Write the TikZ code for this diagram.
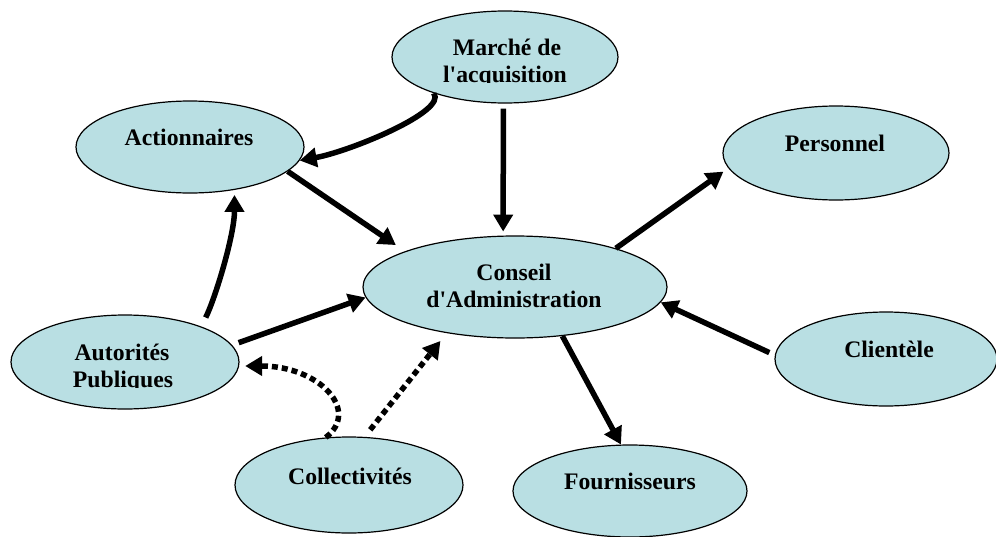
\documentclass[tikz,border=0pt]{standalone}
\usepackage{fontspec}
\setmainfont{Liberation Serif}
\usetikzlibrary{shapes.geometric,arrows.meta}
\definecolor{bubblefill}{RGB}{185,223,227}
\tikzset{
  bubble/.style={ellipse, draw=black, line width=1.2pt, fill=bubblefill, inner sep=0pt},
  lbl/.style={anchor=base, inner sep=0pt, font=\fontsize{23.7}{27}\selectfont\bfseries},
  flow/.style={line width=5.5pt, -{Triangle[length=17pt,width=19pt]}},
  dotflow/.style={flow, dash pattern=on 6pt off 4pt},
}
\begin{document}
\begin{tikzpicture}[x=1pt,y=-1pt]
\useasboundingbox (0,0) rectangle (996,536);

% stakeholders
\node[bubble, minimum width=226pt, minimum height=92pt]  (M)  at (505,57)  {};
\node[bubble, minimum width=228pt, minimum height=92pt]  (A)  at (190,147) {};
\node[bubble, minimum width=226pt, minimum height=94pt]  (P)  at (836,153) {};
\node[bubble, minimum width=304pt, minimum height=102pt] (C)  at (515,287) {};
\node[bubble, minimum width=228pt, minimum height=94pt]  (AP) at (125,362) {};
\node[bubble, minimum width=222pt, minimum height=94pt]  (Cl) at (886,359) {};
\node[bubble, minimum width=228pt, minimum height=96pt]  (Co) at (349,485) {};
\node[bubble, minimum width=234pt, minimum height=92pt]  (F)  at (630,491) {};

% labels (the second lines are cut at the baseline)
\node[lbl] (tM1) at (507,55) {Marché de};
\begin{scope}
  \clip (380,60) rectangle (630,82.5);
  \node[lbl] (tM2) at (505,82) {l\textquotesingle acquisition};
\end{scope}
\node[lbl] (tA)  at (189,145) {Actionnaires};
\node[lbl] (tP)  at (835,151) {Personnel};
\node[lbl] (tC1) at (514,280) {Conseil};
\node[lbl] (tC2) at (514,307) {d\textquotesingle Administration};
\node[lbl] (tAP1) at (122,360) {Autorités};
\begin{scope}
  \clip (0,365) rectangle (240,387.8);
  \node[lbl] (tAP2) at (123,387) {Publiques};
\end{scope}
\node[lbl] (tCl) at (889,357) {Clientèle};
\node[lbl] (tCo) at (350,484) {Collectivités};
\node[lbl] (tF)  at (630,489) {Fournisseurs};

% influences
\draw[flow] (M.207) .. controls +(14,18) and +(50,-9) .. (A.-7);
\draw[flow, shorten >=11pt] (A.-14.6) -- (C.162);
\draw[flow, shorten <=5pt, shorten >=4pt] (M.268) -- (C.103);
\draw[flow, shorten <=10pt, shorten >=5pt] (AP.25) .. controls +(14,-28) and +(0,45) .. (A.-44);
\draw[flow, shorten <=7pt] (AP.9.5) -- (C.184);
\draw[flow, shorten >=6pt] (C.21.9) -- (P.188.6);
\draw[flow, shorten <=6pt] (Cl.178) -- (C.-6.4);
\draw[flow] (C.-46.7) -- (F.101);
\draw[dotflow, shorten >=6pt] (Co.116.6) .. controls +(35,-27) and +(80,0) .. (AP.-2.4);
\draw[dotflow, shorten <=9pt, shorten >=10pt] (Co.72.5) -- (C.214);
\end{tikzpicture}
\end{document}
